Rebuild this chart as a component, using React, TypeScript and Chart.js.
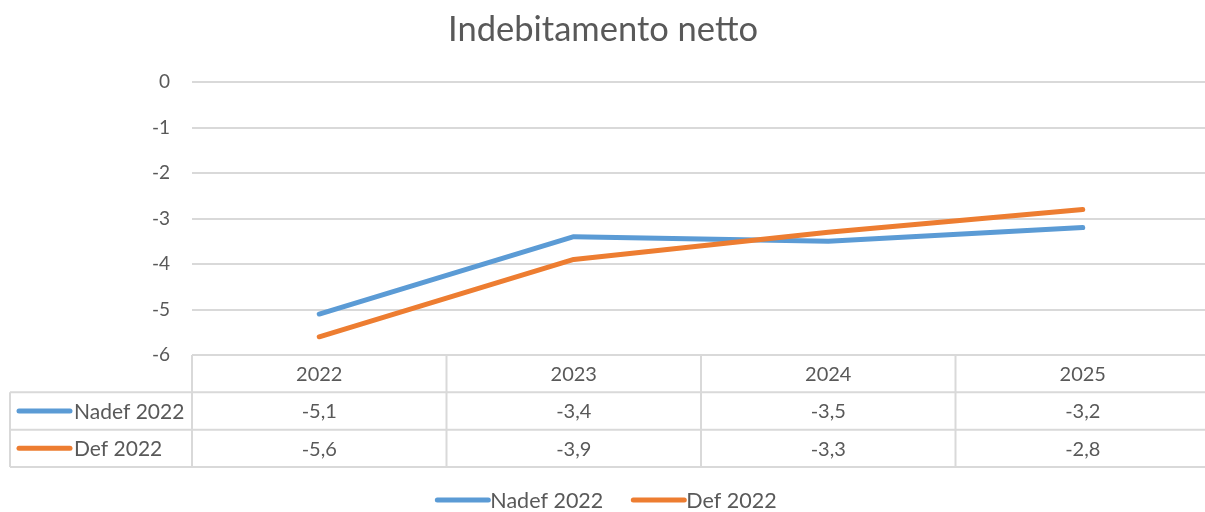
import React, { useEffect, useRef } from "react";
import { Chart, registerables } from "chart.js";

Chart.register(...registerables);

const title = "Indebitamento netto";
const categories = ["2022", "2023", "2024", "2025"];
const seriesNames = ["Nadef 2022", "Def 2022"];
const nadefValues = [-5.1, -3.4, -3.5, -3.2];
const defValues = [-5.6, -3.9, -3.3, -2.8];
const yTicks = [0, -1, -2, -3, -4, -5, -6];

const BLUE = "#5B9BD5";
const ORANGE = "#ED7D31";
const TEXT = "#595959";
const GRID = "#D9D9D9";
const FONT = "Lato";

const fmt = (v: number) => v.toFixed(1).replace(".", ",");

const tablePlugin = {
  id: "dataTable",
  afterDraw(chart: any) {
    const ctx = chart.ctx;
    const xs = chart.scales.x;
    const area = chart.chartArea;
    const left = area.left;
    const right = area.right;
    const top = area.bottom;
    const bottom = xs.bottom;
    const rowH = (bottom - top) / 3;
    const colW = (right - left) / categories.length;
    const tableLeft = 10;
    const series = [
      { name: seriesNames[0], color: BLUE, values: nadefValues },
      { name: seriesNames[1], color: ORANGE, values: defValues },
    ];
    ctx.save();
    ctx.strokeStyle = GRID;
    ctx.lineWidth = 2;
    ctx.beginPath();
    ctx.moveTo(left, top);
    ctx.lineTo(right + 5, top);
    for (let r = 1; r <= 3; r++) {
      const y = top + r * rowH;
      ctx.moveTo(tableLeft, y);
      ctx.lineTo(right + 5, y);
    }
    ctx.moveTo(tableLeft, top + rowH);
    ctx.lineTo(tableLeft, bottom);
    for (let c = 0; c <= categories.length; c++) {
      const x = left + c * colW;
      ctx.moveTo(x, top);
      ctx.lineTo(x, bottom);
    }
    ctx.stroke();

    ctx.fillStyle = TEXT;
    ctx.font = `20px ${FONT}`;
    ctx.textAlign = "center";
    ctx.textBaseline = "middle";
    categories.forEach((c, i) => {
      const x = xs.getPixelForValue(i);
      ctx.fillText(c, x, top + rowH / 2 + 1);
    });
    series.forEach((s, r) => {
      const yc = top + rowH * (r + 1.5) + 1;
      ctx.font = `20px ${FONT}`;
      s.values.forEach((v, i) => {
        ctx.fillText(fmt(v), xs.getPixelForValue(i), yc);
      });
      ctx.strokeStyle = s.color;
      ctx.lineWidth = 5;
      ctx.lineCap = "round";
      ctx.beginPath();
      ctx.moveTo(19, yc - 1);
      ctx.lineTo(70, yc - 1);
      ctx.stroke();
      ctx.font = `21px ${FONT}`;
      ctx.textAlign = "left";
      ctx.fillText(s.name, 74, yc);
      ctx.textAlign = "center";
    });

    // legend
    const ly = 500;
    const lineLen = 53;
    const gapItems = 28;
    ctx.font = `21.5px ${FONT}`;
    const widths = series.map((s) => lineLen + 2 + ctx.measureText(s.name).width);
    const total = widths[0] + widths[1] + gapItems;
    let lx = 606 - total / 2;
    series.forEach((s, i) => {
      ctx.strokeStyle = s.color;
      ctx.lineWidth = 5;
      ctx.lineCap = "round";
      ctx.beginPath();
      ctx.moveTo(lx + 2, ly);
      ctx.lineTo(lx + lineLen, ly);
      ctx.stroke();
      ctx.textAlign = "left";
      ctx.fillText(s.name, lx + lineLen + 2, ly + 1);
      lx += widths[i] + gapItems;
    });
    ctx.restore();
  },
};

export default function App() {
  const ref = useRef<HTMLCanvasElement | null>(null);
  useEffect(() => {
    document.body.style.margin = "0";
    const chart = new Chart(ref.current as HTMLCanvasElement, {
      type: "line",
      data: {
        labels: categories,
        datasets: [
          {
            label: seriesNames[0],
            data: nadefValues,
            borderColor: BLUE,
            backgroundColor: BLUE,
            borderWidth: 5,
            pointRadius: 0,
            borderCapStyle: "round",
            borderJoinStyle: "round",
            tension: 0,
            order: 1,
          },
          {
            label: seriesNames[1],
            data: defValues,
            borderColor: ORANGE,
            backgroundColor: ORANGE,
            borderWidth: 5,
            pointRadius: 0,
            borderCapStyle: "round",
            borderJoinStyle: "round",
            tension: 0,
            order: 0,
          },
        ],
      },
      options: {
        animation: false,
        responsive: false,
        maintainAspectRatio: false,
        layout: { padding: { top: 82, left: 10, right: 2, bottom: 45 } },
        plugins: {
          legend: { display: false },
          tooltip: { enabled: false },
          title: { display: false },
        },
        scales: {
          x: {
            offset: true,
            grid: { display: false },
            border: { display: false },
            ticks: { display: false },
            afterFit: (s: any) => {
              s.height = 112;
            },
          },
          y: {
            min: -6,
            max: 0,
            afterBuildTicks: (s: any) => {
              s.ticks = yTicks.map((v) => ({ value: v }));
            },
            grid: { color: GRID, lineWidth: 2, drawTicks: false },
            border: { display: false },
            ticks: {
              color: TEXT,
              font: { family: FONT, size: 19 },
              padding: 22,
              callback: (v: any) => String(v),
            },
            afterFit: (s: any) => {
              s.width = 182;
            },
          },
        },
      },
      plugins: [
        tablePlugin,
        {
          id: "titleText",
          afterDraw(chart: any) {
            const ctx = chart.ctx;
            ctx.save();
            ctx.fillStyle = TEXT;
            ctx.font = `34.5px ${FONT}`;
            ctx.textAlign = "center";
            ctx.textBaseline = "middle";
            ctx.fillText(title, 603, 30);
            ctx.restore();
          },
        },
      ],
    });
    return () => chart.destroy();
  }, []);
  return (
    <div style={{ position: "absolute", left: 0, top: 0, width: 1205, height: 512, overflow: "hidden", background: "#fff" }}>
      <canvas ref={ref} width={1212} height={512} style={{ display: "block" }} />
    </div>
  );
}
